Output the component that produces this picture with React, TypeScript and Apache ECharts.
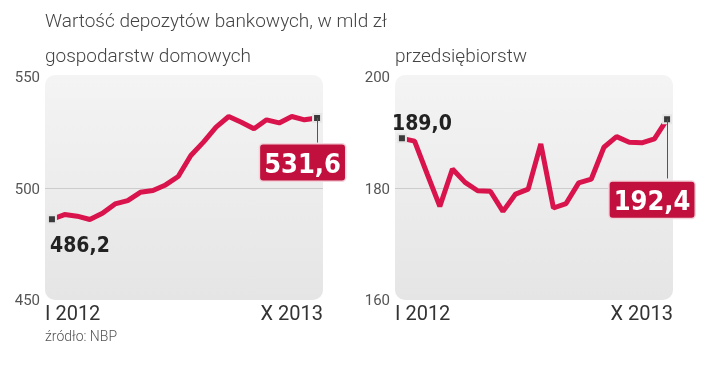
import React, { useEffect, useRef } from 'react';
import * as echarts from 'echarts';

// Months I 2012 .. X 2013
const months = [
  'I 2012', 'II 2012', 'III 2012', 'IV 2012', 'V 2012', 'VI 2012', 'VII 2012', 'VIII 2012', 'IX 2012', 'X 2012', 'XI 2012', 'XII 2012',
  'I 2013', 'II 2013', 'III 2013', 'IV 2013', 'V 2013', 'VI 2013', 'VII 2013', 'VIII 2013', 'IX 2013', 'X 2013',
];
const households = [
  486.2, 488.3, 487.6, 486.1, 488.9, 493.1, 494.6, 498.3, 499.1, 501.6, 505.4, 514.8,
  520.8, 527.5, 532.3, 529.7, 526.8, 530.8, 529.4, 532.3, 530.8, 531.6,
];
const companies = [
  189.0, 188.5, 182.6, 176.8, 183.5, 181.1, 179.6, 179.5, 175.9, 179.0, 179.9, 188.0,
  176.5, 177.3, 181.0, 181.7, 187.4, 189.3, 188.3, 188.2, 188.9, 192.4,
];
const xTickLabels = [months[0], months[months.length - 1]];
const householdsAxis = { min: 450, max: 550, interval: 50 };
const companiesAxis = { min: 160, max: 200, interval: 20 };
const titleText = 'Wartość depozytów bankowych, w mld zł';
const panelTitles = ['gospodarstw domowych', 'przedsiębiorstw'];
const sourceText = 'źródło: NBP';

const LINE = '#d9134c';
const BOX = '#c1103d';
const LIGHT = 'Roboto, "Open Sans", sans-serif';
const NARROW = '"DejaVu Sans Condensed", "DejaVu Sans", sans-serif';

const X_MIN = -0.55;
const X_MAX = 21.47;

const fmt = (v: number) => v.toFixed(1).replace('.', ',');

const plainLabel = (position: string) => ({
  show: true,
  position,
  distance: 0,
  formatter: (p: any) => fmt(p.value[1]),
  color: '#222',
  fontSize: 21,
  fontWeight: 'bold',
  fontFamily: NARROW,
});

const boxLabel = {
  show: true,
  position: 'bottom',
  distance: 0,
  formatter: (p: any) => fmt(p.value[1]),
  color: '#fff',
  fontSize: 27,
  lineHeight: 35,
  fontWeight: 'bold',
  fontFamily: NARROW,
  backgroundColor: BOX,
  borderColor: '#f2d3db',
  borderWidth: 1.5,
  borderRadius: 3,
  padding: [1, 4, 0, 4],
};

function buildData(values: number[], firstLabel: any) {
  const last = values.length - 1;
  return values.map((v, i) => {
    const item: any = { value: [i, v] };
    if (i === 0 || i === last) {
      item.symbol = 'rect';
      item.symbolSize = 8;
      item.itemStyle = { color: '#3a3a3a', borderColor: '#e6e6e6', borderWidth: 2 };
    }
    if (i === 0) item.label = firstLabel;
    if (i === last) item.label = boxLabel;
    return item;
  });
}

// connector from the last point down to its value box (drop in data units)
function connector(values: number[], drop: number) {
  const last = values.length - 1;
  return {
    silent: true,
    symbol: 'none',
    label: { show: false },
    lineStyle: { color: '#555', width: 1, type: 'solid' },
    data: [[{ coord: [last, values[last]] }, { coord: [last, values[last] - drop] }]],
  };
}

export default function App() {
  const ref = useRef<HTMLDivElement>(null);
  useEffect(() => {
    if (!ref.current) return;
    const chart = echarts.init(ref.current, null, { renderer: 'svg' });
    const grids = [
      { left: 45, top: 77, width: 278, height: 223 },
      { left: 395, top: 77, width: 278, height: 223 },
    ];
    const xAxis = grids.map((_, gi) => ({
      type: 'value',
      gridIndex: gi,
      min: X_MIN,
      max: X_MAX,
      axisLine: { show: false },
      axisTick: { show: false },
      splitLine: { show: false },
      axisLabel: {
        showMinLabel: true,
        showMaxLabel: true,
        alignMinLabel: 'left',
        alignMaxLabel: 'right',
        margin: 3,
        fontSize: 20,
        color: '#333',
        fontFamily: LIGHT,
        formatter: (v: number) =>
          Math.abs(v - X_MIN) < 1e-6 ? xTickLabels[0] : Math.abs(v - X_MAX) < 1e-6 ? xTickLabels[1] : '',
      },
    }));
    const yAxis = [householdsAxis, companiesAxis].map((a, gi) => ({
      type: 'value',
      gridIndex: gi,
      min: a.min,
      max: a.max,
      interval: a.interval,
      axisLine: { show: false },
      axisTick: { show: false },
      axisLabel: { margin: 5, fontSize: 15, color: '#555', fontFamily: LIGHT },
      splitLine: { show: true, lineStyle: { color: ['rgba(0,0,0,0)', '#cccccc'], width: 1 } },
    }));
    const bg = (x: number) => ({
      type: 'rect',
      z: -10,
      silent: true,
      shape: { x, y: 75, width: 278, height: 225, r: 10 },
      style: {
        fill: new echarts.graphic.LinearGradient(0, 0, 0, 1, [
          { offset: 0, color: '#f4f4f4' },
          { offset: 1, color: '#e5e5e6' },
        ]),
      },
    });
    const labelShift: Record<string, number[]> = {
      '0-0': [28, 10.5],
      '0-21': [-14.5, 21.5],
      '1-0': [20, 0],
      '1-21': [-15, 57.5],
    };
    const seriesBase = {
      type: 'line',
      symbol: 'none',
      lineStyle: { color: LINE, width: 5 },
      itemStyle: { color: LINE },
      labelLayout: (p: any) => {
        const s = labelShift[p.seriesIndex + '-' + p.dataIndex];
        return s ? { dx: s[0], dy: s[1] } : {};
      },
    };
    chart.setOption({
      animation: false,
      title: [
        { text: titleText, left: 45, top: 11 },
        { text: panelTitles[0], left: 45, top: 46 },
        { text: panelTitles[1], left: 395, top: 46 },
        { text: sourceText, left: 45, top: 329, textStyle: { fontSize: 14, color: '#555', fontWeight: 300, fontFamily: LIGHT } },
      ].map((t: any) => ({
        padding: 0,
        textStyle: { fontSize: 19, color: '#444', fontWeight: 300, fontFamily: LIGHT },
        ...t,
      })),
      graphic: [bg(45), bg(395)],
      grid: grids,
      xAxis,
      yAxis,
      series: [
        {
          ...seriesBase,
          xAxisIndex: 0,
          yAxisIndex: 0,
          data: buildData(households, plainLabel('bottom')),
          markLine: connector(households, 11),
        },
        {
          ...seriesBase,
          xAxisIndex: 1,
          yAxisIndex: 1,
          data: buildData(companies, plainLabel('top')),
          markLine: connector(companies, 10.6),
        },
      ],
    });
    return () => chart.dispose();
  }, []);
  return <div ref={ref} style={{ position: 'fixed', left: 0, top: 0, width: 720, height: 371 }} />;
}
